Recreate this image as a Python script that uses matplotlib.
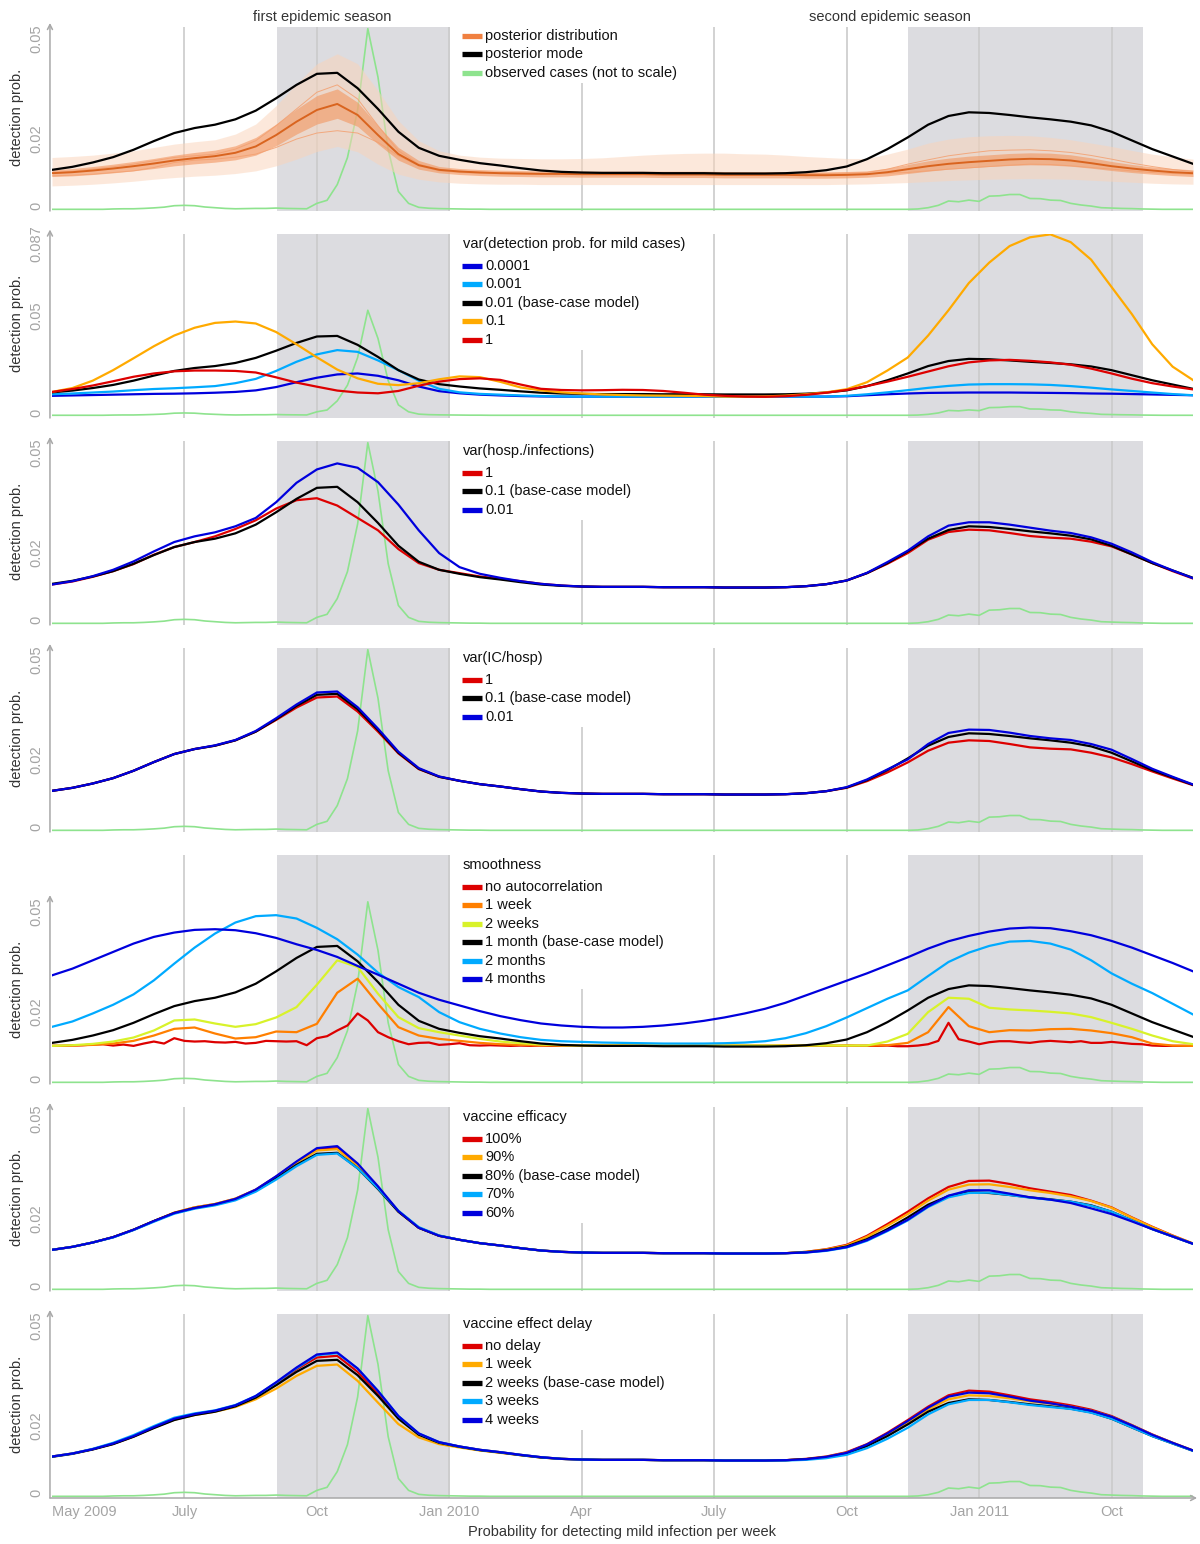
import numpy as np
import matplotlib
matplotlib.use("Agg")
import matplotlib.pyplot as plt
import matplotlib.transforms as mtransforms
from matplotlib.lines import Line2D
from matplotlib.patches import Rectangle

plt.rcParams['font.family'] = ['Liberation Sans', 'DejaVu Sans']

# ---------------- data ----------------
weeks2 = np.arange(0, 113, 2)   # weeks since start of May 2009, 2-weekly samples
weeks1 = np.arange(0, 113)      # weekly samples

tick_weeks = [0, 13, 26, 39, 52, 65, 78, 91, 104]
tick_labels = ["May 2009", "July", "Oct", "Jan 2010", "Apr", "July", "Oct", "Jan 2011", "Oct"]
season1 = (22.1, 39.1)
season2 = (84.0, 107.1)

# observed cases (relative units, not to scale), weekly
observed_cases = [0, 0, 0, 0, 0, 0, 2, 3, 3, 5,
                  8, 12, 20, 22, 20, 13, 9, 5, 3, 4,
                  5, 5, 7, 5, 4, 3, 33, 50, 137, 286,
                  550, 1000, 731, 330, 99, 33, 11, 6, 4, 3,
                  2, 1, 1, 0, 0, 0, 0, 0, 0, 0,
                  0, 0, 0, 0, 0, 0, 0, 0, 0, 0,
                  0, 0, 0, 0, 0, 0, 0, 0, 0, 0,
                  0, 0, 0, 0, 0, 0, 0, 0, 0, 0,
                  0, 0, 0, 0, 0, 2, 9, 22, 46, 42,
                  51, 44, 73, 75, 82, 82, 60, 59, 51, 49,
                  33, 24, 18, 9, 7, 5, 4, 2, 1, 0,
                  0, 0, 0]

base_case = [.0108, .0117, .0130, .0146, .0168, .0194, .0218, .0233, .0243, .0259,
             .0285, .0322, .0362, .0395, .0398, .0352, .0290, .0222, .0174, .0150,
             .0138, .0128, .0121, .0113, .0106, .0102, .0100, .0099, .0099, .0099,
             .0098, .0098, .0098, .0097, .0097, .0097, .0098, .0101, .0107, .0118,
             .0140, .0170, .0205, .0243, .0269, .0280, .0278, .0272, .0265, .0259,
             .0252, .0241, .0222, .0196, .0170, .0148, .0126]

post_median = [.0098, .0101, .0106, .0112, .0119, .0127, .0136, .0143, .0149, .0159,
               .0178, .0212, .0252, .0287, .0305, .0272, .0212, .0155, .0122, .0108,
               .0103, .0100, .0098, .0097, .0096, .0096, .0095, .0095, .0095, .0095,
               .0094, .0094, .0094, .0093, .0093, .0093, .0093, .0092, .0092, .0093,
               .0095, .0101, .0110, .0119, .0126, .0131, .0135, .0139, .0141, .0140,
               .0136, .0128, .0119, .0112, .0106, .0101, .0098]
post_inner_lo = [.0088, .0090, .0094, .0099, .0105, .0112, .0120, .0126, .0131, .0138,
                 .0152, .0180, .0215, .0245, .0262, .0238, .0185, .0137, .0110, .0099,
                 .0094, .0091, .0089, .0088, .0087, .0087, .0086, .0086, .0086, .0086,
                 .0085, .0085, .0085, .0084, .0084, .0084, .0084, .0083, .0083, .0084,
                 .0086, .0090, .0097, .0104, .0110, .0114, .0118, .0121, .0123, .0122,
                 .0119, .0113, .0106, .0100, .0095, .0091, .0088]
post_inner_hi = [.0108, .0112, .0118, .0125, .0133, .0142, .0152, .0160, .0167, .0180,
                 .0205, .0245, .0290, .0330, .0350, .0310, .0240, .0175, .0136, .0118,
                 .0112, .0109, .0107, .0106, .0105, .0105, .0104, .0104, .0104, .0104,
                 .0104, .0104, .0104, .0103, .0103, .0103, .0103, .0102, .0102, .0103,
                 .0105, .0113, .0124, .0135, .0143, .0149, .0153, .0157, .0159, .0158,
                 .0153, .0144, .0133, .0124, .0117, .0112, .0108]
post_outer_lo = [.0060, .0062, .0065, .0069, .0074, .0080, .0085, .0089, .0092, .0097,
                 .0105, .0120, .0140, .0163, .0178, .0162, .0125, .0095, .0080, .0072,
                 .0068, .0066, .0065, .0065, .0064, .0064, .0064, .0064, .0064, .0064,
                 .0064, .0064, .0064, .0064, .0064, .0064, .0064, .0064, .0064, .0065,
                 .0066, .0068, .0070, .0073, .0076, .0078, .0080, .0081, .0082, .0081,
                 .0080, .0077, .0074, .0071, .0068, .0066, .0065]
post_outer_hi = [.0145, .0148, .0152, .0158, .0165, .0175, .0185, .0192, .0198, .0215,
                 .0245, .0300, .0365, .0425, .0455, .0425, .0345, .0255, .0195, .0165,
                 .0152, .0146, .0143, .0142, .0141, .0141, .0142, .0144, .0148, .0152,
                 .0155, .0157, .0158, .0158, .0156, .0155, .0152, .0148, .0145, .0142,
                 .0142, .0155, .0170, .0188, .0200, .0207, .0210, .0211, .0210, .0205,
                 .0198, .0188, .0178, .0166, .0155, .0147, .0140]
post_sample_hi = [.0100, .0104, .0110, .0117, .0125, .0135, .0145, .0150, .0155, .0170,
                  .0195, .0240, .0290, .0340, .0362, .0320, .0240, .0165, .0125, .0110,
                  .0104, .0101, .0099, .0098, .0097, .0097, .0097, .0097, .0097, .0098,
                  .0099, .0100, .0100, .0099, .0098, .0097, .0097, .0097, .0097, .0098,
                  .0100, .0110, .0125, .0138, .0150, .0158, .0165, .0167, .0168, .0165,
                  .0160, .0151, .0140, .0128, .0118, .0109, .0103]
post_sample_lo = [.0090, .0092, .0095, .0100, .0105, .0115, .0130, .0137, .0140, .0146,
                  .0155, .0175, .0200, .0218, .0225, .0218, .0190, .0150, .0120, .0105,
                  .0100, .0098, .0097, .0096, .0095, .0095, .0095, .0095, .0095, .0095,
                  .0095, .0095, .0095, .0095, .0095, .0095, .0095, .0095, .0095, .0095,
                  .0096, .0098, .0100, .0105, .0110, .0114, .0118, .0122, .0125, .0124,
                  .0120, .0115, .0110, .0105, .0100, .0097, .0095]

# var(detection prob. for mild cases)
var_0001 = [.0090, .0092, .0094, .0096, .0098, .0100, .0101, .0103, .0106, .0110,
            .0118, .0135, .0160, .0183, .0200, .0205, .0193, .0170, .0138, .0114,
            .0103, .0096, .0092, .0089, .0087, .0086, .0086, .0086, .0086, .0086,
            .0086, .0086, .0086, .0086, .0086, .0086, .0086, .0086, .0086, .0088,
            .0093, .0098, .0102, .0105, .0106, .0107, .0107, .0107, .0106, .0105,
            .0104, .0102, .0101, .0099, .0097, .0095, .0093]
var_001 = [.0098, .0102, .0107, .0112, .0119, .0125, .0129, .0134, .0140, .0155,
           .0177, .0218, .0265, .0303, .0325, .0316, .0272, .0222, .0168, .0126,
           .0108, .0100, .0096, .0092, .0089, .0087, .0086, .0086, .0086, .0086,
           .0086, .0086, .0086, .0086, .0086, .0086, .0086, .0086, .0086, .0090,
           .0098, .0108, .0119, .0131, .0141, .0148, .0150, .0150, .0149, .0146,
           .0140, .0132, .0123, .0115, .0107, .0099, .0093]
var_01 = [.0110, .0130, .0168, .0222, .0283, .0345, .0400, .0440, .0465, .0472,
          .0462, .0418, .0355, .0288, .0225, .0180, .0152, .0145, .0155, .0175,
          .0190, .0186, .0162, .0133, .0118, .0108, .0102, .0097, .0094, .0092,
          .0091, .0090, .0089, .0086, .0086, .0087, .0091, .0098, .0108, .0124,
          .0160, .0220, .0287, .0400, .0530, .0670, .0775, .0860, .0905, .0920,
          .0880, .0790, .0650, .0510, .0355, .0240, .0171]
var_1 = [.0110, .0125, .0143, .0165, .0188, .0205, .0216, .0220, .0220, .0218,
         .0210, .0185, .0158, .0137, .0117, .0107, .0103, .0115, .0142, .0163,
         .0176, .0180, .0172, .0148, .0126, .0120, .0118, .0119, .0121, .0120,
         .0115, .0106, .0096, .0090, .0086, .0085, .0088, .0095, .0106, .0120,
         .0140, .0163, .0188, .0215, .0242, .0262, .0272, .0275, .0270, .0262,
         .0250, .0230, .0205, .0178, .0155, .0138, .0123]

# var(hosp./infections)
hosp_1 = [.0106, .0115, .0129, .0146, .0167, .0195, .0218, .0233, .0250, .0272,
          .0298, .0333, .0358, .0364, .0342, .0305, .0268, .0212, .0170, .0150,
          .0140, .0130, .0123, .0116, .0108, .0103, .0100, .0099, .0099, .0099,
          .0098, .0098, .0098, .0097, .0097, .0097, .0098, .0101, .0107, .0118,
          .0140, .0168, .0200, .0240, .0263, .0270, .0268, .0260, .0251, .0246,
          .0243, .0234, .0220, .0196, .0170, .0146, .0124]
hosp_001 = [.0106, .0116, .0131, .0150, .0175, .0205, .0233, .0250, .0262, .0280,
            .0305, .0352, .0410, .0450, .0468, .0455, .0412, .0345, .0268, .0200,
            .0158, .0138, .0126, .0116, .0108, .0103, .0100, .0099, .0099, .0099,
            .0098, .0098, .0098, .0097, .0097, .0097, .0098, .0101, .0107, .0118,
            .0141, .0173, .0207, .0250, .0282, .0292, .0292, .0285, .0276, .0267,
            .0260, .0247, .0228, .0202, .0173, .0148, .0125]

# var(IC/hosp)
ic_1 = [.0108, .0117, .0130, .0146, .0168, .0194, .0218, .0233, .0243, .0259,
        .0285, .0320, .0357, .0387, .0390, .0345, .0285, .0220, .0173, .0150,
        .0138, .0128, .0121, .0113, .0106, .0102, .0100, .0099, .0099, .0099,
        .0098, .0098, .0098, .0097, .0097, .0097, .0098, .0101, .0107, .0117,
        .0137, .0163, .0193, .0228, .0252, .0259, .0257, .0248, .0238, .0234,
        .0232, .0222, .0208, .0188, .0166, .0145, .0125]
ic_001 = [.0108, .0117, .0130, .0146, .0168, .0194, .0218, .0233, .0244, .0260,
          .0287, .0325, .0366, .0402, .0405, .0358, .0294, .0225, .0176, .0151,
          .0138, .0128, .0121, .0113, .0106, .0102, .0100, .0099, .0099, .0099,
          .0098, .0098, .0098, .0097, .0097, .0097, .0098, .0101, .0107, .0119,
          .0142, .0172, .0202, .0248, .0281, .0291, .0290, .0282, .0272, .0265,
          .0260, .0248, .0231, .0203, .0174, .0150, .0127]

# smoothness
smooth_none = [.0099, .0099, .0100, .0101, .0103, .0104, .0100, .0103, .0099, .0106,
               .0112, .0106, .0122, .0114, .0112, .0113, .0110, .0109, .0111, .0106,
               .0108, .0114, .0113, .0112, .0113, .0101, .0122, .0128, .0145, .0160,
               .0196, .0175, .0140, .0125, .0113, .0104, .0108, .0109, .0102, .0104,
               .0107, .0101, .0100, .0101, .0100, .0099, .0100, .0099, .0100, .0099,
               .0099, .0100, .0099, .0099, .0100, .0099, .0099, .0099, .0100, .0099,
               .0099, .0099, .0099, .0100, .0099, .0099, .0099, .0099, .0099, .0099,
               .0099, .0099, .0100, .0099, .0099, .0099, .0099, .0099, .0100, .0099,
               .0099, .0099, .0100, .0098, .0098, .0100, .0104, .0114, .0168, .0119,
               .0112, .0104, .0110, .0113, .0113, .0110, .0108, .0112, .0114, .0112,
               .0110, .0113, .0108, .0108, .0111, .0108, .0105, .0104, .0100, .0099,
               .0099, .0099, .0099]
smooth_1w = [.0099, .0100, .0102, .0106, .0114, .0130, .0150, .0154, .0136, .0121,
             .0125, .0142, .0140, .0165, .0258, .0300, .0225, .0155, .0130, .0120,
             .0114, .0108, .0104, .0102, .0100, .0100, .0100, .0100, .0100, .0100,
             .0100, .0100, .0100, .0100, .0100, .0100, .0100, .0100, .0100, .0100,
             .0100, .0101, .0108, .0140, .0215, .0158, .0140, .0146, .0145, .0149,
             .0150, .0145, .0137, .0125, .0106, .0100, .0099]
smooth_2w = [.0099, .0101, .0105, .0112, .0124, .0145, .0175, .0178, .0166, .0156,
             .0164, .0184, .0215, .0282, .0355, .0335, .0255, .0185, .0152, .0140,
             .0130, .0120, .0112, .0107, .0103, .0101, .0100, .0100, .0100, .0100,
             .0100, .0100, .0100, .0100, .0100, .0100, .0100, .0100, .0100, .0100,
             .0100, .0112, .0135, .0200, .0243, .0240, .0213, .0208, .0205, .0201,
             .0196, .0185, .0168, .0150, .0130, .0113, .0104]
smooth_2m = [.0156, .0172, .0196, .0222, .0253, .0295, .0345, .0393, .0435, .0468,
             .0487, .0490, .0480, .0452, .0418, .0372, .0318, .0275, .0245, .0200,
             .0170, .0150, .0136, .0125, .0117, .0113, .0111, .0109, .0108, .0107,
             .0106, .0106, .0106, .0107, .0109, .0113, .0122, .0137, .0158, .0184,
             .0212, .0240, .0265, .0308, .0350, .0378, .0398, .0411, .0413, .0405,
             .0387, .0355, .0316, .0285, .0257, .0225, .0193]
smooth_4m = [.0310, .0330, .0355, .0380, .0405, .0425, .0438, .0446, .0448, .0445,
             .0436, .0422, .0403, .0386, .0365, .0338, .0312, .0285, .0258, .0237,
             .0220, .0203, .0188, .0176, .0166, .0160, .0156, .0154, .0154, .0156,
             .0160, .0166, .0174, .0184, .0196, .0210, .0228, .0250, .0272, .0294,
             .0316, .0340, .0364, .0390, .0412, .0428, .0441, .0450, .0453, .0451,
             .0442, .0430, .0413, .0393, .0370, .0347, .0322]

# vaccine efficacy
eff_100 = [.0108, .0117, .0130, .0146, .0168, .0194, .0219, .0235, .0245, .0261,
           .0288, .0327, .0370, .0408, .0412, .0360, .0294, .0223, .0174, .0150,
           .0138, .0128, .0121, .0113, .0106, .0102, .0100, .0099, .0099, .0099,
           .0098, .0098, .0098, .0097, .0097, .0097, .0098, .0102, .0110, .0123,
           .0150, .0185, .0222, .0262, .0296, .0314, .0315, .0305, .0292, .0282,
           .0272, .0255, .0235, .0205, .0177, .0151, .0127]
eff_90 = [.0108, .0117, .0130, .0146, .0168, .0194, .0219, .0235, .0245, .0261,
          .0287, .0326, .0368, .0405, .0409, .0358, .0293, .0223, .0174, .0150,
          .0138, .0128, .0121, .0113, .0106, .0102, .0100, .0099, .0099, .0099,
          .0098, .0098, .0098, .0097, .0097, .0097, .0098, .0102, .0109, .0121,
          .0147, .0180, .0215, .0255, .0288, .0303, .0304, .0296, .0286, .0278,
          .0268, .0254, .0234, .0204, .0176, .0150, .0127]
eff_70 = [.0108, .0117, .0130, .0145, .0167, .0192, .0216, .0231, .0241, .0256,
          .0282, .0318, .0358, .0392, .0396, .0352, .0292, .0225, .0176, .0151,
          .0138, .0128, .0121, .0113, .0106, .0102, .0100, .0099, .0099, .0099,
          .0098, .0098, .0098, .0097, .0097, .0097, .0098, .0100, .0105, .0115,
          .0135, .0164, .0196, .0236, .0265, .0278, .0279, .0272, .0264, .0258,
          .0252, .0240, .0222, .0196, .0170, .0148, .0126]
eff_60 = [.0108, .0117, .0130, .0146, .0168, .0194, .0218, .0233, .0244, .0260,
          .0288, .0328, .0372, .0412, .0418, .0366, .0298, .0224, .0174, .0150,
          .0138, .0128, .0121, .0113, .0106, .0102, .0100, .0099, .0099, .0099,
          .0098, .0098, .0098, .0097, .0097, .0097, .0098, .0100, .0106, .0116,
          .0137, .0166, .0198, .0238, .0270, .0286, .0286, .0276, .0265, .0258,
          .0248, .0232, .0215, .0193, .0170, .0148, .0126]

# vaccine effect delay
delay_0 = [.0109, .0118, .0131, .0147, .0169, .0196, .0221, .0235, .0245, .0261,
           .0288, .0327, .0370, .0405, .0410, .0362, .0297, .0226, .0176, .0151,
           .0139, .0129, .0122, .0114, .0107, .0102, .0100, .0099, .0099, .0099,
           .0098, .0098, .0098, .0097, .0097, .0097, .0098, .0102, .0109, .0122,
           .0146, .0180, .0218, .0258, .0292, .0306, .0303, .0292, .0280, .0272,
           .0262, .0249, .0230, .0203, .0175, .0150, .0127]
delay_1 = [.0109, .0118, .0131, .0147, .0169, .0195, .0219, .0233, .0243, .0257,
           .0280, .0312, .0350, .0380, .0384, .0335, .0270, .0206, .0166, .0146,
           .0136, .0127, .0120, .0113, .0106, .0102, .0100, .0099, .0099, .0099,
           .0098, .0098, .0098, .0097, .0097, .0097, .0098, .0101, .0108, .0120,
           .0143, .0175, .0210, .0250, .0280, .0292, .0290, .0283, .0274, .0267,
           .0258, .0246, .0228, .0202, .0174, .0150, .0127]
delay_3 = [.0109, .0118, .0132, .0150, .0173, .0200, .0225, .0238, .0247, .0263,
           .0290, .0330, .0373, .0412, .0418, .0372, .0305, .0230, .0178, .0152,
           .0139, .0129, .0122, .0114, .0107, .0102, .0100, .0099, .0099, .0099,
           .0098, .0098, .0098, .0097, .0097, .0097, .0097, .0099, .0104, .0114,
           .0134, .0162, .0195, .0235, .0265, .0278, .0278, .0271, .0263, .0257,
           .0251, .0240, .0222, .0196, .0170, .0148, .0126]
delay_4 = [.0109, .0118, .0131, .0148, .0170, .0197, .0222, .0236, .0246, .0262,
           .0290, .0331, .0375, .0414, .0420, .0372, .0305, .0230, .0178, .0152,
           .0139, .0129, .0122, .0114, .0107, .0102, .0100, .0099, .0099, .0099,
           .0098, .0098, .0098, .0097, .0097, .0097, .0098, .0101, .0108, .0120,
           .0145, .0178, .0215, .0255, .0288, .0300, .0298, .0288, .0276, .0268,
           .0258, .0246, .0228, .0202, .0174, .0150, .0127]

# ---------------- style ----------------
RED, ORANGE, LBLUE, BLUE, BLACK = '#dd0000', '#ffaa00', '#00aaff', '#0000dd', '#000000'
GREEN = '#8ee38e'
SHADE = '#dcdce0'
GRID = '#cbcbcb'
AXGRAY = '#a8a8a8'
TICKGRAY = '#a4a4a4'
TXT = '#333333'
FS = 10.5

W, H = 1200, 1544
fig = plt.figure(figsize=(W / 100, H / 100), dpi=100)
PX = mtransforms.Affine2D().scale(1 / W, -1 / H).translate(0, 1) + fig.transFigure

AX_L, AX_R = 52, 1193
STD_YLIM = (-0.0015, 0.0535)

panels = [
    dict(top=27, bot=211, ylim=STD_YLIM, arrow=0.0547, ticks=[0, 0.02, 0.05],
         tlabels=['0', '0.02', '0.05'], title=None, posterior=True,
         series=[('posterior distribution', '#f08040', None, None),
                 ('posterior mode', BLACK, weeks2, base_case),
                 ('observed cases (not to scale)', GREEN, None, None)]),
    dict(top=234, bot=418, ylim=(-0.0024, 0.0922), arrow=0.0945, ticks=[0, 0.05, 0.087],
         tlabels=['0', '0.05', '0.087'], title='var(detection prob. for mild cases)',
         series=[('0.0001', BLUE, weeks2, var_0001),
                 ('0.001', LBLUE, weeks2, var_001),
                 ('0.01 (base-case model)', BLACK, weeks2, base_case),
                 ('0.1', ORANGE, weeks2, var_01),
                 ('1', RED, weeks2, var_1)]),
    dict(top=441, bot=625, ylim=STD_YLIM, arrow=0.0547, ticks=[0, 0.02, 0.05],
         tlabels=['0', '0.02', '0.05'], title='var(hosp./infections)',
         series=[('1', RED, weeks2, hosp_1),
                 ('0.1 (base-case model)', BLACK, weeks2, base_case),
                 ('0.01', BLUE, weeks2, hosp_001)]),
    dict(top=648, bot=832, ylim=STD_YLIM, arrow=0.0547, ticks=[0, 0.02, 0.05],
         tlabels=['0', '0.02', '0.05'], title='var(IC/hosp)',
         series=[('1', RED, weeks2, ic_1),
                 ('0.1 (base-case model)', BLACK, weeks2, base_case),
                 ('0.01', BLUE, weeks2, ic_001)]),
    dict(top=855, bot=1084, ylim=(-0.0015, 0.067), arrow=0.0550, ticks=[0, 0.02, 0.05],
         tlabels=['0', '0.02', '0.05'], title='smoothness',
         series=[('no autocorrelation', RED, weeks1, smooth_none),
                 ('1 week', '#ff7f00', weeks2, smooth_1w),
                 ('2 weeks', '#d8f22a', weeks2, smooth_2w),
                 ('1 month (base-case model)', BLACK, weeks2, base_case),
                 ('2 months', LBLUE, weeks2, smooth_2m),
                 ('4 months', BLUE, weeks2, smooth_4m)]),
    dict(top=1107, bot=1291, ylim=STD_YLIM, arrow=0.0547, ticks=[0, 0.02, 0.05],
         tlabels=['0', '0.02', '0.05'], title='vaccine efficacy',
         series=[('100%', RED, weeks2, eff_100),
                 ('90%', ORANGE, weeks2, eff_90),
                 ('80% (base-case model)', BLACK, weeks2, base_case),
                 ('70%', LBLUE, weeks2, eff_70),
                 ('60%', BLUE, weeks2, eff_60)]),
    dict(top=1314, bot=1498, ylim=STD_YLIM, arrow=0.0547, ticks=[0, 0.02, 0.05],
         tlabels=['0', '0.02', '0.05'], title='vaccine effect delay',
         series=[('no delay', RED, weeks2, delay_0),
                 ('1 week', ORANGE, weeks2, delay_1),
                 ('2 weeks (base-case model)', BLACK, weeks2, base_case),
                 ('3 weeks', LBLUE, weeks2, delay_3),
                 ('4 weeks', BLUE, weeks2, delay_4)]),
]

green_curve = -0.001 + np.array(observed_cases) / 1000.0 * 0.054

for i, p in enumerate(panels):
    ax = fig.add_axes([AX_L / W, 1 - p['bot'] / H, (AX_R - AX_L) / W, (p['bot'] - p['top']) / H])
    ax.set_xlim(0, 112)
    ax.set_ylim(*p['ylim'])
    for s in ax.spines.values():
        s.set_visible(False)
    ax.set_facecolor('none')
    ax.axvspan(*season1, color=SHADE, lw=0, zorder=0)
    ax.axvspan(*season2, color=SHADE, lw=0, zorder=0)
    for t in tick_weeks[1:]:
        ax.axvline(t, color=GRID, lw=1.2, zorder=0.5)
    ax.plot(weeks1, green_curve, color=GREEN, lw=1.2, zorder=1)

    if p.get('posterior'):
        ax.fill_between(weeks2, post_outer_lo, post_outer_hi, color='#fbd3b8', alpha=0.5, lw=0, zorder=1.2)
        ax.fill_between(weeks2, post_inner_lo, post_inner_hi, color='#f29660', alpha=0.6, lw=0, zorder=1.3)
        ax.plot(weeks2, post_sample_hi, color='#f3a070', lw=0.7, alpha=0.85, zorder=1.4)
        ax.plot(weeks2, post_sample_lo, color='#f3a070', lw=0.7, alpha=0.85, zorder=1.4)
        ax.plot(weeks2, post_median, color='#d9641f', lw=1.4, zorder=1.5)

    for (lab, col, xs, ys) in p['series']:
        if xs is None:
            continue
        ax.plot(xs, ys, color=col, lw=1.6, zorder=2, solid_joinstyle='round')

    # y axis with arrow
    yb = p['ylim'][0]
    ax.annotate('', xy=(-0.2, p['arrow']), xytext=(-0.2, yb), xycoords='data',
                arrowprops=dict(arrowstyle='->,head_length=0.35,head_width=0.18', color=AXGRAY,
                                lw=1.1, shrinkA=0, shrinkB=0), annotation_clip=False)
    ax.set_yticks(p['ticks'])
    ax.set_yticklabels(p['tlabels'], rotation=90, va='center', color=TICKGRAY, fontsize=FS)
    ax.tick_params(axis='y', length=0, pad=6)

    ax.set_xticks(tick_weeks)
    if i == len(panels) - 1:
        ax.set_xticklabels(tick_labels, color=TICKGRAY, fontsize=FS)
        ax.get_xticklabels()[0].set_ha('left')
        ax.tick_params(axis='x', length=0, pad=5)
        ax.annotate('', xy=(112.4, yb), xytext=(-0.2, yb), xycoords='data',
                    arrowprops=dict(arrowstyle='->,head_length=0.35,head_width=0.18', color=AXGRAY,
                                    lw=1.1, shrinkA=0, shrinkB=0), annotation_clip=False)
    else:
        ax.tick_params(axis='x', length=0, labelbottom=False)

    # y label centered on the drawn axis range
    y0, y1 = p['ylim']
    mid = (yb + p['arrow']) / 2
    frac = (mid - y0) / (y1 - y0)
    ymid_px = p['bot'] - frac * (p['bot'] - p['top'])
    fig.text(17, ymid_px, 'detection prob.', transform=PX, rotation=90, ha='center', va='center',
             color=TXT, fontsize=FS)

    # legend (white box, handles, labels)
    top = p['top']
    if p['title'] is None:
        first = top + 9
    else:
        first = top + 32
        fig.text(463, top + 10, p['title'], transform=PX, ha='left', va='center',
                 color='#111111', fontsize=FS, zorder=6)
    n = len(p['series'])
    last = first + 18.4 * (n - 1)
    fig.add_artist(Rectangle((456, top), 244, last + 10 - top, transform=PX,
                             facecolor='white', edgecolor='none', zorder=4))
    for k, (lab, col, xs, ys) in enumerate(p['series']):
        yy = first + 18.4 * k
        fig.add_artist(Line2D([462, 482], [yy, yy], transform=PX, color=col, lw=3.8,
                              solid_capstyle='butt', zorder=5))
        fig.text(485, yy, lab, transform=PX, ha='left', va='center', color='#111111',
                 fontsize=FS, zorder=6)

fig.text(322.5, 17, 'first epidemic season', transform=PX, ha='center', va='center', color=TXT, fontsize=FS)
fig.text(889.5, 17, 'second epidemic season', transform=PX, ha='center', va='center', color=TXT, fontsize=FS)
fig.text(622.5, 1532, 'Probability for detecting mild infection per week', transform=PX,
         ha='center', va='center', color=TXT, fontsize=FS)

fig.savefig('out.png', dpi=100, facecolor='white')
